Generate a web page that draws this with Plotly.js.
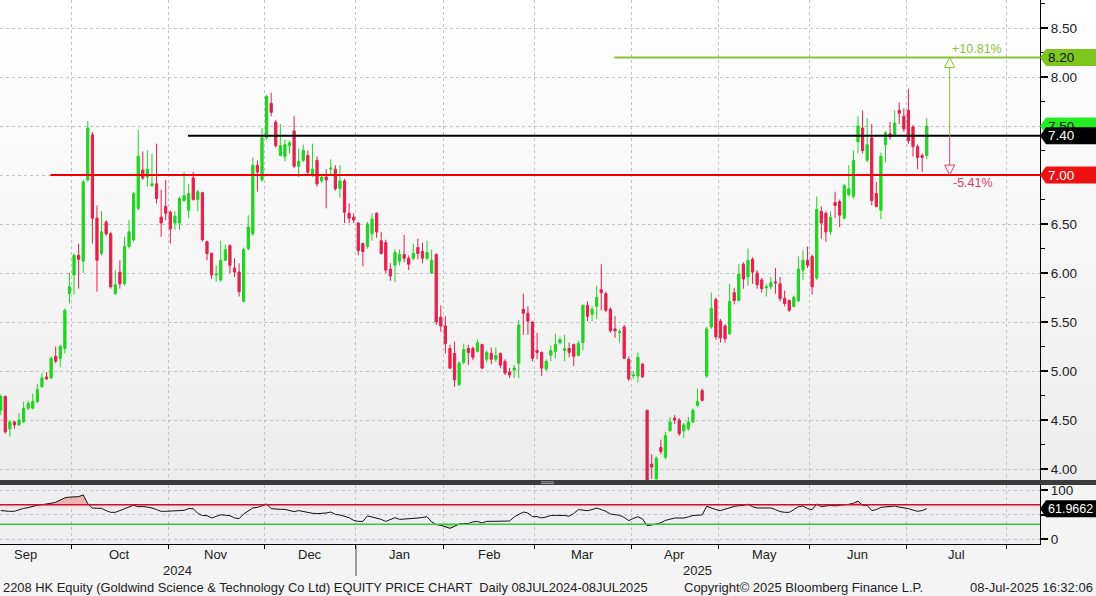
<!DOCTYPE html>
<html><head><meta charset="utf-8">
<script src="https://cdn.plot.ly/plotly-3.0.1.min.js"></script>
<style>html,body{margin:0;padding:0;background:#f4f4f4;}#chart{width:1096px;height:596px;}</style>
</head><body><div id="chart"></div>
<script>
// ---------- DATA ----------
const startDate = '2024-09-06';
const endDate = '2025-07-08';
const hkHolidays = ['2024-09-18','2024-10-01','2024-10-11','2024-12-25','2024-12-26','2025-01-01',
  '2025-01-29','2025-01-30','2025-01-31','2025-04-04','2025-04-18','2025-04-21','2025-05-01','2025-05-05','2025-07-01'];
const monthNames = ['Jan','Feb','Mar','Apr','May','Jun','Jul','Aug','Sep','Oct','Nov','Dec'];
const priceTicks = [4.0, 4.5, 5.0, 5.5, 6.0, 6.5, 7.0, 7.5, 8.0, 8.5];
const rsiTicks = [0, 50, 100];

const openP = [4.60,4.74,4.41,4.48,4.45,4.48,4.62,4.62,4.69,4.84,
 4.94,4.93,5.15,5.13,5.23,5.79,5.98,6.18,6.12,6.95,
 7.41,6.56,6.20,6.52,6.40,5.79,6.01,5.89,6.27,6.34,
 6.66,7.05,6.98,6.89,6.91,6.57,6.68,6.62,6.51,6.51,
 6.74,6.64,6.97,6.75,6.82,6.32,6.20,5.98,5.93,6.13,
 6.28,6.05,6.01,5.71,6.25,6.40,7.10,6.95,7.38,7.73,
 7.54,7.20,7.19,7.30,7.45,7.09,7.15,7.20,7.00,7.15,
 6.94,6.98,7.06,7.06,6.86,6.94,6.61,6.57,6.51,6.30,
 6.27,6.40,6.61,6.33,6.31,6.04,6.08,6.12,6.19,6.15,
 6.15,6.26,6.22,6.15,6.00,6.19,5.55,5.46,5.23,5.18,
 4.86,5.09,5.23,5.23,5.20,5.27,5.12,5.18,5.12,5.18,
 5.10,4.99,5.01,5.08,5.63,5.59,5.50,5.21,5.19,5.02,
 5.16,5.20,5.29,5.21,5.23,5.27,5.16,5.29,5.67,5.58,
 5.66,5.83,5.79,5.63,5.43,5.39,5.45,5.12,4.95,4.95,
 5.07,4.60,4.05,3.90,4.22,4.12,4.39,4.52,4.50,4.39,
 4.41,4.48,4.65,4.80,4.95,5.45,5.73,5.51,5.46,5.38,
 5.80,5.72,6.09,5.96,6.14,6.00,5.93,5.85,5.86,5.91,
 5.89,5.74,5.72,5.66,5.72,6.03,6.13,6.17,5.95,6.63,
 6.61,6.42,6.72,6.73,6.56,6.80,6.78,7.34,7.48,7.15,
 7.38,6.81,6.64,7.31,7.42,7.41,7.66,7.60,7.66,7.49,
 7.29,7.20,7.20];
const highP = [4.76,4.75,4.50,4.49,4.57,4.69,4.70,4.77,4.87,4.98,
 4.99,5.15,5.25,5.27,5.64,6.00,6.20,6.30,6.95,7.55,
 7.44,6.69,6.63,6.54,6.42,6.03,6.13,6.37,6.54,6.83,
 7.46,7.24,7.25,7.22,7.32,6.85,6.95,6.64,6.63,6.78,
 7.03,6.91,7.03,6.85,6.83,6.33,6.21,6.08,6.33,6.29,
 6.29,6.15,6.10,6.26,6.59,7.18,7.15,7.48,7.82,7.84,
 7.56,7.52,7.36,7.35,7.60,7.27,7.31,7.25,7.32,7.19,
 7.00,7.06,7.16,7.10,7.10,6.96,6.71,6.61,6.52,6.31,
 6.52,6.61,6.62,6.42,6.34,6.10,6.24,6.24,6.39,6.18,
 6.30,6.35,6.31,6.33,6.24,6.20,5.67,5.56,5.27,5.30,
 5.10,5.28,5.27,5.25,5.32,5.28,5.21,5.24,5.24,5.19,
 5.12,5.03,5.06,5.52,5.79,5.66,5.51,5.39,5.20,5.12,
 5.26,5.38,5.35,5.37,5.29,5.28,5.31,5.68,5.71,5.66,
 5.87,6.09,5.81,5.65,5.56,5.43,5.47,5.15,5.00,5.19,
 5.08,4.60,4.15,4.13,4.30,4.38,4.53,4.55,4.52,4.47,
 4.53,4.62,4.82,4.82,5.45,5.80,5.75,5.53,5.48,5.89,
 5.85,6.09,6.11,6.25,6.16,6.03,5.95,5.89,5.96,6.05,
 5.96,5.82,5.73,5.77,6.17,6.23,6.27,6.19,6.78,6.68,
 6.63,6.63,6.83,6.75,6.91,7.10,7.25,7.60,7.66,7.58,
 7.52,6.93,7.23,7.45,7.54,7.66,7.74,7.68,7.88,7.51,
 7.31,7.22,7.58];
const lowP = [4.55,4.36,4.33,4.41,4.44,4.47,4.60,4.61,4.67,4.83,
 4.91,4.92,5.08,5.04,5.18,5.69,5.78,5.84,6.00,6.93,
 6.30,5.81,6.18,6.38,5.84,5.78,5.84,5.87,6.25,6.32,
 6.64,6.95,6.88,6.88,6.71,6.37,6.54,6.30,6.44,6.44,
 6.73,6.56,6.74,6.63,6.32,6.13,5.94,5.91,5.91,6.12,
 6.00,5.96,5.76,5.70,6.23,6.38,6.83,6.93,7.36,7.60,
 7.28,7.19,7.14,7.22,7.07,6.98,7.13,7.00,6.98,6.88,
 6.92,6.66,7.00,6.84,6.77,6.51,6.51,6.51,6.18,6.07,
 6.25,6.33,6.36,6.19,6.00,5.92,5.91,6.08,6.11,6.03,
 6.13,6.14,6.10,6.13,5.99,5.47,5.40,5.18,5.02,4.84,
 4.85,5.07,5.06,5.11,5.19,5.02,5.09,5.07,5.09,5.03,
 4.96,4.93,4.93,4.93,5.37,5.37,5.10,5.12,4.95,5.00,
 5.10,5.13,5.27,5.10,5.14,5.05,5.15,5.21,5.51,5.51,
 5.53,5.62,5.60,5.39,5.34,5.29,5.12,4.90,4.92,4.88,
 4.93,3.70,3.90,3.88,4.15,4.10,4.38,4.46,4.34,4.32,
 4.39,4.47,4.63,4.69,4.93,5.43,5.32,5.29,5.29,5.37,
 5.68,5.71,5.84,5.87,5.89,5.84,5.80,5.76,5.83,5.79,
 5.71,5.66,5.60,5.65,5.70,5.93,6.05,5.78,5.93,6.35,
 6.32,6.39,6.56,6.47,6.55,6.78,6.76,7.22,7.22,7.13,
 6.69,6.67,6.55,7.13,7.36,7.39,7.52,7.44,7.32,7.19,
 7.06,7.03,7.16];
const closeP = [4.74,4.38,4.48,4.45,4.50,4.62,4.67,4.69,4.81,4.93,
 4.92,5.13,5.10,5.25,5.62,5.86,6.18,6.14,6.93,7.48,
 6.56,6.13,6.42,6.40,5.86,5.88,5.89,6.27,6.42,6.81,
 7.19,6.97,7.06,6.91,6.76,6.51,6.61,6.45,6.58,6.76,
 6.79,6.81,6.75,6.83,6.34,6.20,5.98,5.99,6.13,6.24,
 6.08,6.01,5.81,6.24,6.47,7.10,7.03,7.38,7.80,7.64,
 7.30,7.30,7.31,7.33,7.09,7.14,7.25,7.03,7.06,6.91,
 6.98,6.95,7.07,6.86,6.94,6.62,6.56,6.54,6.23,6.22,
 6.50,6.55,6.42,6.20,6.03,5.97,6.21,6.19,6.15,6.09,
 6.20,6.20,6.15,6.21,6.13,5.50,5.46,5.28,5.03,4.91,
 5.08,5.22,5.19,5.14,5.29,5.03,5.19,5.12,5.16,5.06,
 4.98,4.96,5.03,5.47,5.59,5.51,5.13,5.19,5.03,5.10,
 5.21,5.27,5.32,5.23,5.19,5.15,5.28,5.67,5.56,5.63,
 5.75,5.80,5.62,5.41,5.41,5.40,5.13,4.92,4.96,5.14,
 4.94,3.80,4.02,4.11,4.18,4.34,4.48,4.50,4.36,4.45,
 4.48,4.60,4.69,4.70,5.43,5.64,5.35,5.34,5.33,5.71,
 5.72,5.99,5.94,6.13,6.01,5.88,5.84,5.86,5.90,5.90,
 5.74,5.69,5.62,5.75,6.04,6.13,6.08,5.86,6.65,6.51,
 6.42,6.57,6.69,6.59,6.89,6.86,7.15,7.50,7.25,7.31,
 6.74,6.68,7.19,7.43,7.39,7.53,7.63,7.47,7.35,7.29,
 7.18,7.18,7.50];
const rsiValues = [58,56.5,56.5,56.5,60,62.5,64,67,69,70,
 71,73,75,80,84,85.5,86,86.4,90,72,
 63,62.6,62.6,58,54.4,54.4,58,60.3,64,69,
 66,66.5,65,63.3,60,56.5,56.5,56.8,57.8,58,
 58.5,62,62,52,48,47.6,43,46,49.5,48.5,
 47.6,43,41.5,51,58,63.3,64.6,68,71.4,62,
 60.5,60.5,60.5,58,55.8,58,56,53.7,52.5,51.7,
 51.7,53,55,50.3,49,46,43.5,38,36,36,
 47,45,42.8,40,36,40,43.5,40,40.5,40.8,
 41.5,42.8,44,45.6,35,29.3,28,25,21.8,26,
 30.6,31.5,31.5,35,36,32.7,36,36,36,36,
 36.5,36.7,45,50,55,53,45.6,45.6,43,45,
 48,48.3,48.3,48,46.5,52,60,59,57.8,60,
 63,60,56.5,51,49.5,48.3,44,37.5,42,45.5,
 41,27.5,28.5,30,33,38,41,42.8,42.8,42.8,
 45,48,48.5,49,66.7,62.5,60,58,61,64,
 66.5,68,68.7,71,66,63.3,63.3,63.3,63.3,60,
 56,54.4,54.4,60,66,67.3,62,60,71.4,66,
 67,68.7,67.5,69.4,70,70.7,73,77.5,68.7,68.7,
 58,60,64.6,65.5,66.5,67.3,65,64,62,59,
 56.5,58,61.9662];
const rsiUpper = 70, rsiLower = 30;
const levelPrices = [7.00, 7.40, 8.20];
const levelStart = ['2024-09-24', '2024-11-07', '2025-03-26'];
const levelColors = ['#f00000', '#000000', '#86c232'];
const footerLeft = '2208 HK Equity (Goldwind Science & Technology Co Ltd) EQUITY PRICE CHART  Daily 08JUL2024-08JUL2025';
const footerMid = 'Copyright\u00a9 2025 Bloomberg Finance L.P.';
const footerRight = '08-Jul-2025 16:32:06';

// ---------- helpers ----------
function tradingDays(from, to) {
  const out = []; const d = new Date(from + 'T00:00:00Z'); const end = new Date(to + 'T00:00:00Z');
  while (d <= end) {
    const wd = d.getUTCDay(); const s = d.toISOString().slice(0, 10);
    if (wd !== 0 && wd !== 6 && !hkHolidays.includes(s)) out.push(s);
    d.setUTCDate(d.getUTCDate() + 1);
  }
  return out;
}
const dates = tradingDays(startDate, endDate);
const idx = dates.map((d, i) => i);
const axisDays = tradingDays('2024-09-02', '2025-08-29');
const off = axisDays.indexOf(startDate);
const months = [];
axisDays.forEach((d, k) => {
  const m = d.slice(0, 7);
  if (!months.length || months[months.length - 1].m !== m) months.push({m, start: k - off, end: k - off});
  else months[months.length - 1].end = k - off;
});
const xRange = [-0.15, 226.7];
const tickPos = months.slice(1).map(g => g.start - 0.5).filter(v => v < xRange[1]);
const janBoundary = months.find(g => g.m === '2025-01').start - 0.5;

const W = 1040, PB = 544;
const pyPaper = px => (PB - px) / PB;
const pxPaper = px => px / W;

const GREEN = '#22d322', RED = '#e3214b';
const lastClose = closeP[closeP.length - 1];
const lastRsi = rsiValues[rsiValues.length - 1];
const base = levelPrices[1], up = levelPrices[2], down = levelPrices[0];
const priceTags = [up, lastClose, base, down];

// ---------- traces ----------
const traces = [];
traces.push({type: 'candlestick', x: idx, open: openP, high: highP, low: lowP, close: closeP,
  xaxis: 'x', yaxis: 'y', hoverinfo: 'skip', whiskerwidth: 0,
  increasing: {line: {color: GREEN, width: 1}, fillcolor: GREEN},
  decreasing: {line: {color: RED, width: 1}, fillcolor: RED}});
traces.push({type: 'scatter', mode: 'lines', x: idx, y: idx.map(() => rsiUpper), yaxis: 'y2', line: {width: 0}, hoverinfo: 'skip'});
traces.push({type: 'scatter', mode: 'lines', x: idx, y: rsiValues.map(v => Math.max(v, rsiUpper)), yaxis: 'y2', line: {width: 0}, fill: 'tonexty', fillcolor: 'rgba(240,120,120,0.5)', hoverinfo: 'skip'});
traces.push({type: 'scatter', mode: 'lines', x: idx, y: idx.map(() => rsiLower), yaxis: 'y2', line: {width: 0}, hoverinfo: 'skip'});
traces.push({type: 'scatter', mode: 'lines', x: idx, y: rsiValues.map(v => Math.min(v, rsiLower)), yaxis: 'y2', line: {width: 0}, fill: 'tonexty', fillcolor: 'rgba(100,210,100,0.5)', hoverinfo: 'skip'});
traces.push({type: 'scatter', mode: 'lines', x: idx, y: rsiValues, yaxis: 'y2', line: {color: '#111', width: 1}, hoverinfo: 'skip'});

// ---------- shapes ----------
const shapes = [];
const nb = 20, mainTop = 0, mainBot = 480;
for (let k = 0; k < nb; k++) {
  const t = k / (nb - 1); const c = Math.round(255 - t * 18);
  shapes.push({type: 'rect', xref: 'paper', yref: 'paper', layer: 'below', line: {width: 0},
    x0: 0, x1: 1096 / W, y0: pyPaper(mainTop + (k + 1) * (mainBot - mainTop) / nb), y1: pyPaper(mainTop + k * (mainBot - mainTop) / nb),
    fillcolor: `rgb(${c},${c},${c})`});
}
shapes.push({type: 'rect', xref: 'paper', yref: 'paper', layer: 'below', line: {width: 0}, x0: 0, x1: 1, y0: 0, y1: pyPaper(485), fillcolor: '#efeff2'});
shapes.push({type: 'rect', xref: 'paper', yref: 'y2', layer: 'below', line: {width: 0}, x0: 0, x1: 1, y0: 62, y1: rsiUpper, fillcolor: 'rgba(255,205,205,0.35)'});
shapes.push({type: 'rect', xref: 'paper', yref: 'paper', line: {width: 0}, x0: 0, x1: 1096 / W, y0: pyPaper(485), y1: pyPaper(480), fillcolor: '#3b3b3b'});
shapes.push({type: 'line', xref: 'paper', yref: 'paper', x0: pxPaper(541), x1: pxPaper(554), y0: pyPaper(481.8), y1: pyPaper(481.8), line: {color: '#9a9a9a', width: 1}});
shapes.push({type: 'line', xref: 'paper', yref: 'paper', x0: pxPaper(541), x1: pxPaper(554), y0: pyPaper(483.6), y1: pyPaper(483.6), line: {color: '#9a9a9a', width: 1}});
shapes.push({type: 'line', xref: 'paper', yref: 'y2', x0: 0, x1: 1, y0: rsiUpper, y1: rsiUpper, line: {color: '#c8102e', width: 1.5}});
shapes.push({type: 'line', xref: 'paper', yref: 'y2', x0: 0, x1: 1, y0: rsiLower, y1: rsiLower, line: {color: '#33cc33', width: 1.5}});
levelPrices.forEach((p, k) => {
  shapes.push({type: 'line', xref: 'x', yref: 'y', x0: dates.indexOf(levelStart[k]) - 0.15, x1: xRange[1], y0: p, y1: p, line: {color: levelColors[k], width: 2}});
});
const arrowX = dates.length - 1 + 5;
shapes.push({type: 'line', xref: 'x', yref: 'y', x0: arrowX, x1: arrowX, y0: base, y1: up, line: {color: '#86c232', width: 1}});
shapes.push({type: 'line', xref: 'x', yref: 'y', x0: arrowX, x1: arrowX, y0: base, y1: down, line: {color: '#d9466e', width: 1}});
shapes.push({type: 'path', xref: 'x', yref: 'y', xsizemode: 'pixel', ysizemode: 'pixel', xanchor: arrowX, yanchor: up,
  path: 'M -5 -10 L 5 -10 L 0 0 Z', fillcolor: '#ffffff', line: {color: '#86c232', width: 1}});
shapes.push({type: 'path', xref: 'x', yref: 'y', xsizemode: 'pixel', ysizemode: 'pixel', xanchor: arrowX, yanchor: down,
  path: 'M -5 10 L 5 10 L 0 0 Z', fillcolor: '#f3f3f3', line: {color: '#d9466e', width: 1}});
shapes.push({type: 'line', xref: 'x', yref: 'paper', x0: janBoundary, x1: janBoundary, y0: pyPaper(546), y1: pyPaper(576), line: {color: '#444', width: 1}});
function tag(yref, val, color) {
  shapes.push({type: 'path', xref: 'paper', yref, xsizemode: 'pixel', ysizemode: 'pixel', xanchor: 1, yanchor: val,
    path: 'M 0 0 L 6 8.5 L 60 8.5 L 60 -8.5 L 6 -8.5 Z', fillcolor: color, line: {width: 0}});
}
tag('y', up, '#7cc61e');
tag('y', lastClose, '#22ee22');
tag('y', base, '#000000');
tag('y', down, '#ee1111');
tag('y2', lastRsi, '#000000');

// axis labels hidden where a value tag covers them (as in the reference)
const priceTickText = priceTicks.map(v => priceTags.some(t => Math.abs(t - v) < 0.08) ? '' : v.toFixed(2));
const rsiTickText = rsiTicks.map(v => Math.abs(lastRsi - v) < 15 ? '' : String(v));

// ---------- annotations ----------
const FONT = 'Arial, "Liberation Sans", sans-serif';
const ann = [];
months.forEach(g => {
  const mid = (g.start + g.end) / 2;
  if (mid > xRange[0] && mid < xRange[1]) {
    ann.push({xref: 'x', yref: 'paper', x: mid, y: pyPaper(554), text: monthNames[parseInt(g.m.slice(5), 10) - 1],
      showarrow: false, xanchor: 'center', yanchor: 'middle', font: {size: 13, color: '#222'}});
  }
});
ann.push({xref: 'x', yref: 'paper', x: (xRange[0] + janBoundary) / 2, y: pyPaper(570), yanchor: 'middle', text: '2024', showarrow: false, font: {size: 13, color: '#222'}});
ann.push({xref: 'x', yref: 'paper', x: (janBoundary + xRange[1]) / 2, y: pyPaper(570), yanchor: 'middle', text: '2025', showarrow: false, font: {size: 13, color: '#222'}});
ann.push({xref: 'paper', yref: 'paper', x: pxPaper(1), y: pyPaper(587), xanchor: 'left', yanchor: 'middle', text: footerLeft, showarrow: false, font: {size: 12.9, color: '#222'}});
ann.push({xref: 'paper', yref: 'paper', x: pxPaper(682), y: pyPaper(587), xanchor: 'left', yanchor: 'middle', text: footerMid, showarrow: false, font: {size: 13, color: '#222'}});
ann.push({xref: 'paper', yref: 'paper', x: pxPaper(1095), y: pyPaper(587), xanchor: 'right', yanchor: 'middle', text: footerRight, showarrow: false, font: {size: 13, color: '#222'}});
const pctUp = ((up / base - 1) * 100).toFixed(2), pctDown = ((down / base - 1) * 100).toFixed(2);
ann.push({xref: 'x', yref: 'y', x: arrowX, y: up, xanchor: 'left', yanchor: 'middle', xshift: 0, yshift: 8, text: '+' + pctUp + '%', showarrow: false, font: {size: 12.5, color: '#86c232'}});
ann.push({xref: 'x', yref: 'y', x: arrowX, y: down, xanchor: 'left', yanchor: 'middle', xshift: 1, yshift: -8, text: pctDown + '%', showarrow: false, font: {size: 12.5, color: '#e0406a'}});
function tagText(yref, val, txt, color, size) {
  ann.push({xref: 'paper', yref, x: pxPaper(1046), y: val, xanchor: 'left', yanchor: 'middle', text: txt, showarrow: false, font: {size, color}});
}
tagText('y', up, up.toFixed(2), '#111', 13.5);
tagText('y', lastClose, lastClose.toFixed(2), '#111', 13.5);
tagText('y', base, base.toFixed(2), '#ffffff', 13.5);
tagText('y', down, down.toFixed(2), '#ffffff', 13.5);
tagText('y2', lastRsi, lastRsi.toFixed(4), '#ffffff', 12.5);

// ---------- layout ----------
const layout = {
  width: 1096, height: 596, margin: {l: 0, r: 56, t: 0, b: 52, pad: 0},
  paper_bgcolor: '#f4f4f4', plot_bgcolor: 'rgba(0,0,0,0)', showlegend: false, hovermode: false,
  font: {family: FONT, size: 12, color: '#222'},
  xaxis: {domain: [0, 1], anchor: 'y2', range: xRange, rangeslider: {visible: false}, tickmode: 'array', tickvals: tickPos,
    showticklabels: false, ticks: 'outside', ticklen: 4, tickcolor: '#000', tickwidth: 1,
    showgrid: true, gridcolor: '#c4c4c4', griddash: 'dot', gridwidth: 1, zeroline: false, showline: true, linecolor: '#000', linewidth: 1, fixedrange: true},
  yaxis: {domain: [pyPaper(480), 1], anchor: 'x', side: 'right', range: [3.888, 8.786], tickmode: 'array', tickvals: priceTicks, ticktext: priceTickText,
    ticks: 'outside', ticklen: 7, tickwidth: 2, tickcolor: '#000', showline: true, linecolor: '#000', linewidth: 1,
    showgrid: true, gridcolor: '#c4c4c4', griddash: 'dot', zeroline: false, tickfont: {size: 13.5, color: '#222'},
    minor: {dtick: 0.25, tick0: 0, ticks: 'outside', ticklen: 4, tickcolor: '#000', tickwidth: 1, showgrid: false}, fixedrange: true},
  yaxis2: {domain: [0, pyPaper(485)], anchor: 'x', side: 'right', range: [-10.2, 110.2], tickmode: 'array', tickvals: rsiTicks, ticktext: rsiTickText,
    ticks: 'outside', ticklen: 7, tickwidth: 2, tickcolor: '#000', showline: true, linecolor: '#000', linewidth: 1,
    showgrid: true, gridcolor: '#c4c4c4', griddash: 'dot', zeroline: false, tickfont: {size: 13.5, color: '#222'}, fixedrange: true},
  shapes, annotations: ann
};
Plotly.newPlot('chart', traces, layout, {displayModeBar: false, staticPlot: true});
</script></body></html>
